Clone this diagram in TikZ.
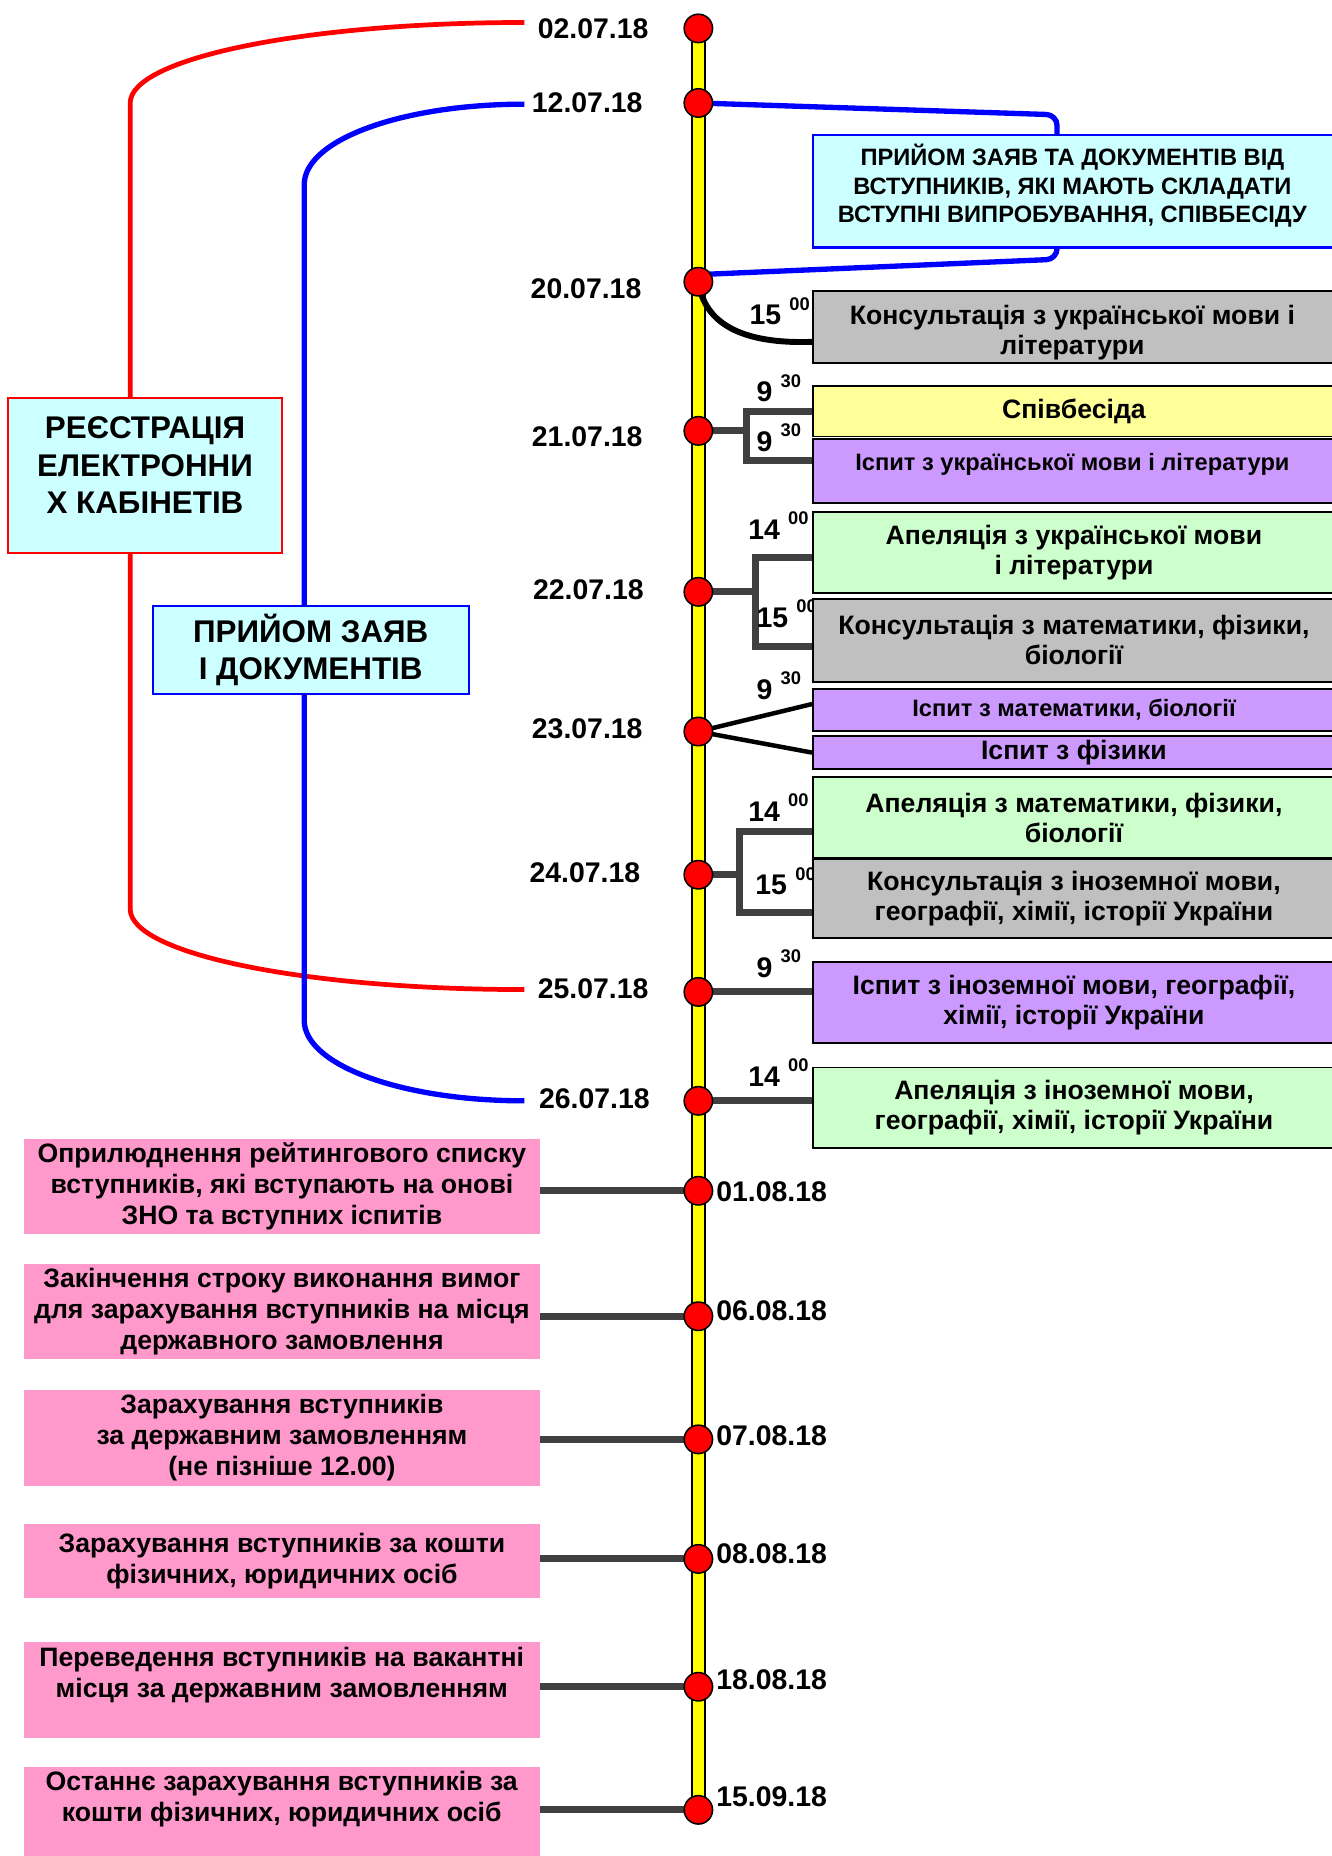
\documentclass[tikz,border=0pt]{standalone}
\usepackage{fontspec}
\setmainfont{Liberation Sans}
\definecolor{cyanbox}{HTML}{CCFFFF}
\definecolor{graybox}{HTML}{C0C0C0}
\definecolor{yelbox}{HTML}{FFFF99}
\definecolor{purbox}{HTML}{CC99FF}
\definecolor{grnbox}{HTML}{CCFFCC}
\definecolor{pnkbox}{HTML}{FF99CC}
\definecolor{connc}{HTML}{404040}
\definecolor{pureblue}{HTML}{0000FF}
\definecolor{purered}{HTML}{FF0000}
\definecolor{baryel}{HTML}{FFFF00}
\pgfdeclarelayer{bglayer}
\pgfdeclarelayer{midlayer}
\pgfsetlayers{bglayer,midlayer,main}
\newcommand{\hmtime}[2]{#1\hspace{7pt}\raisebox{12.5pt}{\fontsize{15.5}{15.5}\selectfont #2}}
\tikzset{
  dot/.style={circle, draw=black, line width=1.3pt, fill=red, minimum size=24pt, inner sep=0},
  datel/.style={font=\bfseries\fontsize{24}{24}\selectfont, inner sep=0},
  timel/.style={font=\bfseries\fontsize{24}{24}\selectfont, inner sep=0, anchor=base west},
  rbox/.style={draw=black, line width=1.6pt, anchor=north west, minimum width=441pt, inner sep=0, align=center, font=\bfseries\fontsize{22.5}{25.5}\selectfont},
  pbox/.style={fill=pnkbox, anchor=north west, minimum width=436pt, inner sep=0, align=center, font=\bfseries\fontsize{22.5}{26}\selectfont},
  btxt/.style={inner sep=0, align=center, font=\bfseries\fontsize{22.5}{26}\selectfont},
  bigtxt/.style={inner sep=0, align=center, font=\bfseries\fontsize{26.5}{31.7}\selectfont},
  conn/.style={draw=connc, line width=6pt},
  blkconn/.style={draw=black, line width=3.8pt},
  redline/.style={draw=purered, line width=4pt},
  blueline/.style={draw=pureblue, line width=4.5pt},
}
\begin{document}
\begin{tikzpicture}[x=1pt,y=-1pt]
\useasboundingbox (0,0) rectangle (1125,1568);

% ---- timeline points
\node[dot] (c1) at (590,24) {};
\node[dot] (c2) at (590,87) {};
\node[dot] (c3) at (590,238) {};
\node[dot] (c4) at (590,364) {};
\node[dot] (c5) at (590,500) {};
\node[dot] (c6) at (590,618) {};
\node[dot] (c7) at (590,739) {};
\node[dot] (c8) at (590,838) {};
\node[dot] (c9) at (590,930) {};
\node[dot] (c10) at (590,1006) {};
\node[dot] (c11) at (590,1112) {};
\node[dot] (c12) at (590,1216) {};
\node[dot] (c13) at (590,1317) {};
\node[dot] (c14) at (590,1425) {};
\node[dot] (c15) at (590,1529) {};

% ---- dates
\node[datel, anchor=east] (d1) at (548,24.6) {02.07.18};
\node[datel, anchor=east] (d2) at (543,87) {12.07.18};
\node[datel, anchor=east] (d3) at (542,243.5) {20.07.18};
\node[datel, anchor=east] (d4) at (543,369) {21.07.18};
\node[datel, anchor=east] (d5) at (544,498) {22.07.18};
\node[datel, anchor=east] (d6) at (543,616) {23.07.18};
\node[datel, anchor=east] (d7) at (541,737) {24.07.18};
\node[datel, anchor=east] (d8) at (548,835) {25.07.18};
\node[datel, anchor=east] (d9) at (549,928) {26.07.18};
\node[datel, anchor=west] (d10) at (605,1006.5) {01.08.18};
\node[datel, anchor=west] (d11) at (605,1107) {06.08.18};
\node[datel, anchor=west] (d12) at (605,1213) {07.08.18};
\node[datel, anchor=west] (d13) at (605,1313) {08.08.18};
\node[datel, anchor=west] (d14) at (605,1419) {18.08.18};
\node[datel, anchor=west] (d15) at (605,1518) {15.09.18};

% ---- left boxes
\node[draw=purered, line width=1.6pt, fill=cyanbox, minimum width=231pt, minimum height=131pt, inner sep=0] (regbox) at (122.5,401.5) {};
\node[bigtxt] (regtxt) at (122.5,393) {РЕЄСТРАЦІЯ\\ЕЛЕКТРОННИ\\Х КАБІНЕТІВ};
\node[draw=pureblue, line width=1.6pt, fill=cyanbox, minimum width=267pt, minimum height=74pt, inner sep=0, align=center, font=\bfseries\fontsize{26.5}{31.5}\selectfont] (appbox) at (262.5,549) {ПРИЙОМ ЗАЯВ\\І ДОКУМЕНТІВ};

% ---- right boxes
\node[rbox, draw=pureblue, line width=2pt, fill=cyanbox, minimum height=95pt] (rb) at (686,113) {};
\node[btxt, font=\bfseries\fontsize{20}{24}\selectfont] (rbt) at (906,157) {ПРИЙОМ ЗАЯВ ТА ДОКУМЕНТІВ ВІД\\ВСТУПНИКІВ, ЯКІ МАЮТЬ СКЛАДАТИ\\ВСТУПНІ ВИПРОБУВАННЯ, СПІВБЕСІДУ};
\node[rbox, fill=graybox, minimum height=61pt] (g1) at (686,245) {};
\node[btxt, font=\bfseries\fontsize{22.5}{26}\selectfont] (g1t) at (906,281) {Консультація з української мови і\\літератури};
\node[rbox, fill=yelbox, minimum height=43pt] (yb) at (686,325) {Співбесіда};
\node[rbox, fill=purbox, minimum height=54pt] (pu1) at (686,370) {};
\node[btxt, font=\bfseries\fontsize{20}{24}\selectfont] (pu1t) at (906,392.5) {Іспит з української мови і літератури};
\node[rbox, fill=grnbox, minimum height=68pt] (ga) at (686,432) {Апеляція з української мови\\і літератури};
\node[rbox, fill=graybox, minimum height=70pt] (gr2) at (686,505) {Консультація з математики, фізики,\\біології};
\node[rbox, fill=purbox, minimum height=36pt, font=\bfseries\fontsize{20}{24}\selectfont] (mb) at (686,581) {Іспит з математики, біології};
\node[rbox, fill=purbox, minimum height=28pt] (fz) at (686,621) {Іспит з фізики};
\node[rbox, fill=grnbox, minimum height=68pt] (ga2) at (686,656) {Апеляція з математики, фізики,\\біології};
\node[rbox, fill=graybox, minimum height=67pt] (gr3) at (686,725) {Консультація з іноземної мови,\\географії, хімії, історії України};
\node[rbox, fill=purbox, minimum height=68pt] (pu4) at (686,812) {Іспит з іноземної мови, географії,\\хімії, історії України};
\node[rbox, fill=grnbox, minimum height=68pt] (ga3) at (686,901) {Апеляція з іноземної мови,\\географії, хімії, історії України};

% ---- pink boxes
\node[pbox, minimum height=80pt] (p1) at (20,962) {Оприлюднення рейтингового списку\\вступників, які вступають на онові\\ЗНО та вступних іспитів};
\node[pbox, minimum height=80pt] (p2) at (20,1068) {Закінчення строку виконання вимог\\для зарахування вступників на місця\\державного замовлення};
\node[pbox, minimum height=81pt] (p3) at (20,1174) {Зарахування вступників\\за державним замовленням\\(не пізніше 12.00)};
\node[pbox, minimum height=63pt] (p4) at (20,1287) {Зарахування вступників за кошти\\фізичних, юридичних осіб};
\node[pbox, minimum height=81pt] (p5) at (20,1387) {};
\node[btxt] (p5t) at (238,1415) {Переведення вступників на вакантні\\місця за державним замовленням};
\node[pbox, minimum height=76pt] (p6) at (20,1493) {};
\node[btxt] (p6t) at (238,1520) {Останнє зарахування вступників за\\кошти фізичних, юридичних осіб};

% ---- bar
\begin{pgfonlayer}{bglayer}
\draw[line width=13pt, black] (c1.center) -- (c15.center);
\draw[line width=9.5pt, baryel] (c1.center) -- (c15.center);
\end{pgfonlayer}

\begin{pgfonlayer}{midlayer}
% period brackets on the left
\coordinate (r1) at (443,19);
\coordinate (r2) at (110,87);
\coordinate (r3) at (110,768);
\coordinate (r4) at (443,836);
\draw[redline] (r1) .. controls +(-184,0) and +(0,-38) .. (r2) -- (r3) .. controls +(0,38) and +(-184,0) .. (r4);
\coordinate (b1) at (443,88);
\coordinate (b2) at (257,156);
\coordinate (b3) at (257,862);
\coordinate (b4) at (443,930);
\draw[blueline] (b1) .. controls +(-103,0) and +(0,-38) .. (b2) -- (b3) .. controls +(0,38) and +(-103,0) .. (b4);

% bracket to the application box
\coordinate (bt) at (893,97);
\coordinate (bb) at (893,219);
\draw[blueline, rounded corners=9pt] (c2.center) -- (bt) -- (bt |- rb.north);
\draw[blueline, rounded corners=9pt] (bt |- rb.south) -- (bb) -- ([yshift=6pt]c3.center);

% 20.07
\draw[line width=5pt, black] (c3.center) .. controls +(5,35) and +(-60,2) .. ([yshift=-12.5pt]g1.west);
\node[timel] (t1) at (633,274.5) {\hmtime{15}{00}};

% 21.07
\coordinate (k4) at (631,0);
\coordinate (pu1x) at ([yshift=9pt]pu1.west);
\draw[conn] (c4.center) -- (c4 -| k4);
\draw[conn] (yb.west) -- (yb.west -| k4) -- (pu1x -| k4) -- (pu1x);
\node[timel] (t2) at (639,339.5) {\hmtime{9}{30}};
\node[timel] (t3) at (639,381.5) {\hmtime{9}{30}};

% 22.07
\coordinate (k5) at (638,0);
\coordinate (gax) at ([yshift=-4pt]ga.west);
\coordinate (gr2x) at ([yshift=-5pt]gr2.west);
\draw[conn] (c5.center) -- (c5 -| k5);
\draw[conn] (gax) -- (gax -| k5) -- (gr2x -| k5) -- (gr2x);
\node[timel] (t4) at (632,456) {\hmtime{14}{00}};
\node[timel] (t5) at (639,530) {\hmtime{15}{00}};

% 23.07
\draw[blkconn] (c6.center) -- ([yshift=5pt]mb.west);
\draw[blkconn] (c6.center) -- (fz.west);
\node[timel] (t6) at (639,591) {\hmtime{9}{30}};

% 24.07
\coordinate (k7) at (625,0);
\coordinate (ga2x) at ([yshift=-11.5pt]ga2.west);
\coordinate (gr3x) at ([yshift=-11.5pt]gr3.west);
\draw[conn] (c7.center) -- (c7 -| k7);
\draw[conn] (ga2x) -- (ga2x -| k7) -- (gr3x -| k7) -- (gr3x);
\node[timel] (t7) at (632,694) {\hmtime{14}{00}};
\node[timel] (t8) at (638,756) {\hmtime{15}{00}};

% 25.07, 26.07
\draw[conn] (c8.center) -- (pu4.west |- c8);
\node[timel] (t9) at (639,826) {\hmtime{9}{30}};
\draw[conn] (c9.center) -- (ga3.west |- c9);
\node[timel] (t10) at (632,918) {\hmtime{14}{00}};

% pink connectors
\draw[conn] (p1.east |- c10) -- (c10.center);
\draw[conn] (p2.east |- c11) -- (c11.center);
\draw[conn] (p3.east |- c12) -- (c12.center);
\draw[conn] (p4.east |- c13) -- (c13.center);
\draw[conn] (p5.east |- c14) -- (c14.center);
\draw[conn] (p6.east |- c15) -- (c15.center);
\end{pgfonlayer}
\end{tikzpicture}
\end{document}
